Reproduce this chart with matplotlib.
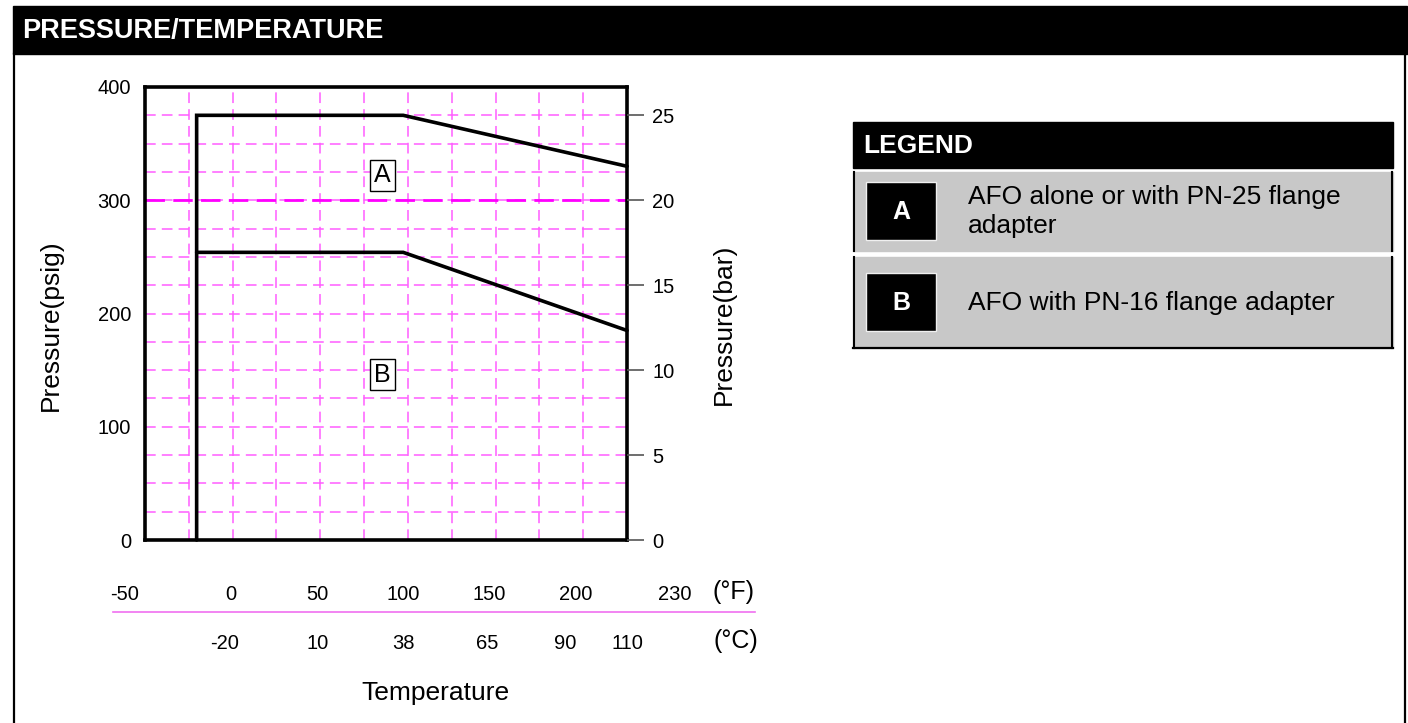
import numpy as np
import matplotlib.pyplot as plt
import matplotlib.transforms as mtransforms
from matplotlib.patches import Rectangle
from matplotlib.lines import Line2D

plt.rcParams['font.family'] = ['Liberation Sans', 'DejaVu Sans']
plt.rcParams['axes.unicode_minus'] = False

# temperature range of the chart (°F) and the two rating curves (psig)
t_min, t_max = -50, 230
curve_a_t = [-20, -20, 100, 230]
curve_a_p = [0, 375, 375, 330]
curve_b_t = [-20, 100, 230]
curve_b_p = [254, 254, 185]

f_ticks = [-50, 0, 50, 100, 150, 200, 230]
c_ticks = [-20, 10, 38, 65, 90, 110]
psig_ticks = [0, 100, 200, 300, 400]
bar_ticks = [0, 5, 10, 15, 20, 25]
psig_per_bar = 15  # as drawn on the sheet

zone_labels = ['A', 'B']
zone_t = [88, 88]
zone_p = [322, 146]

legend_keys = ['A', 'B']
legend_text = ['AFO alone or with PN-25 flange\nadapter',
               'AFO with PN-16 flange adapter']

W, H = 1408, 723
fig = plt.figure(figsize=(W / 100, H / 100), dpi=100)


def fx(px):
    return px / W


def fy(py):
    return 1 - py / H


def fig_rect(x0, y0, x1, y1, **kw):
    fig.add_artist(Rectangle((fx(x0), fy(y1)), fx(x1) - fx(x0), fy(y0) - fy(y1),
                             transform=fig.transFigure, **kw))


def fig_line(xs, ys, **kw):
    fig.add_artist(Line2D([fx(x) for x in xs], [fy(y) for y in ys],
                          transform=fig.transFigure, **kw))


# header bar and frame
fig_rect(13, 6, 1407, 54, color='black')
fig.text(fx(22), fy(31), 'PRESSURE/TEMPERATURE', color='white', weight='bold',
         size=19.5, va='center')
fig_line([14, 14], [54, 723], color='black', lw=1.6)
fig_line([1405, 1405], [54, 723], color='black', lw=1.6)

# main chart
ax = fig.add_axes([fx(145), fy(540), fx(627) - fx(145), fy(87) - fy(540)])
ax.set_xlim(t_min, t_max)
ax.set_ylim(0, 400)
ax.set_xticks(np.linspace(t_min, t_max, 12))
ax.set_xticklabels([])
ax.set_yticks(psig_ticks)
ax.set_yticks(np.arange(0, 401, 25), minor=True)
ax.tick_params(axis='x', length=0)
ax.tick_params(axis='y', which='both', length=0)
ax.tick_params(axis='y', pad=10, labelsize=14.5)
ax.grid(True, which='both', color='#ff5cff', lw=1.1, ls=(0, (7, 4)))
ax.axhline(300, color='#ff00ff', lw=2, ls=(0, (7, 3)))
ax.set_axisbelow(True)
for s in ax.spines.values():
    s.set_linewidth(2.6)
    s.set_color('black')

ax.plot(curve_a_t, curve_a_p, color='black', lw=2.6, clip_on=False,
        solid_joinstyle='miter', solid_capstyle='round')
ax.plot(curve_b_t, curve_b_p, color='black', lw=2.6, clip_on=False,
        solid_joinstyle='miter', solid_capstyle='round')

for lab, t, p in zip(zone_labels, zone_t, zone_p):
    ax.text(t, p, lab, size=18, ha='center', va='center',
            bbox=dict(boxstyle='square,pad=0.15', fc='white', ec='black', lw=1))

ax.text(-0.195, 0.475, 'Pressure(psig)', transform=ax.transAxes, rotation=90,
        size=19, ha='center', va='center')

# bar scale on the right
ax2 = ax.twinx()
ax2.set_ylim(0, 400 / psig_per_bar)
ax2.set_yticks(bar_ticks)
ax2.tick_params(axis='y', length=12, width=1.2, color='#555555', pad=6,
                labelsize=14.5)
for s in ax2.spines.values():
    s.set_visible(False)
ax.text(1.2, 0.477, 'Pressure(bar)', transform=ax.transAxes, rotation=90,
        size=19, ha='center', va='center')

# temperature scales under the chart
sec_f = ax.secondary_xaxis(-0.1)
sec_f.set_xticks(f_ticks)
sec_f.tick_params(length=0, pad=0, labelsize=14.5)
sec_f.spines['bottom'].set_visible(False)
# the end labels sit outside the frame on the sheet
f_labels = sec_f.get_xticklabels()
f_labels[0].set_transform(f_labels[0].get_transform() +
                          mtransforms.ScaledTranslation(-0.2, 0, fig.dpi_scale_trans))
f_labels[-1].set_transform(f_labels[-1].get_transform() +
                           mtransforms.ScaledTranslation(0.48, 0, fig.dpi_scale_trans))


def f2c(f):
    return (np.asarray(f) - 32) * 5 / 9


def c2f(c):
    return np.asarray(c) * 9 / 5 + 32


sec_c = ax.secondary_xaxis(-0.208, functions=(f2c, c2f))
sec_c.set_xticks(c_ticks)
sec_c.tick_params(length=0, pad=0, labelsize=14.5)
sec_c.spines['bottom'].set_visible(False)

ax.text(1.22, -0.115, '(°F)', transform=ax.transAxes, size=18,
        ha='center', va='center')
ax.text(1.225, -0.223, '(°C)', transform=ax.transAxes, size=18,
        ha='center', va='center')
fig_line([113, 755], [612, 612], color='#f070f0', lw=1.2)
fig.text(fx(435), fy(693), 'Temperature', size=19, ha='center', va='center')

# legend block
fig_rect(853, 122, 1393, 168, color='black')
fig.text(fx(863), fy(146), 'LEGEND', color='white', weight='bold', size=19,
         va='center')
rows = [(172, 251), (257, 348)]
for (y0, y1), key, txt in zip(rows, legend_keys, legend_text):
    fig_rect(853, y0, 1393, y1, color='#c8c8c8')
    fig_line([854, 854], [y0, y1], color='black', lw=1.5)
    fig_line([1392, 1392], [y0, y1], color='black', lw=1.5)
    ym = (y0 + y1) / 2
    fig_rect(866, ym - 30, 936, ym + 29, fc='black', ec='#f0f0f0', lw=1)
    fig.text(fx(901), fy(ym), key, color='white', weight='bold', size=18,
             ha='center', va='center')
    fig.text(fx(968), fy(ym), txt, size=19, ha='left', va='center',
             linespacing=1.3)
fig_line([853, 1393], [348, 348], color='black', lw=1.6)

fig.savefig('out.png', dpi=100)
